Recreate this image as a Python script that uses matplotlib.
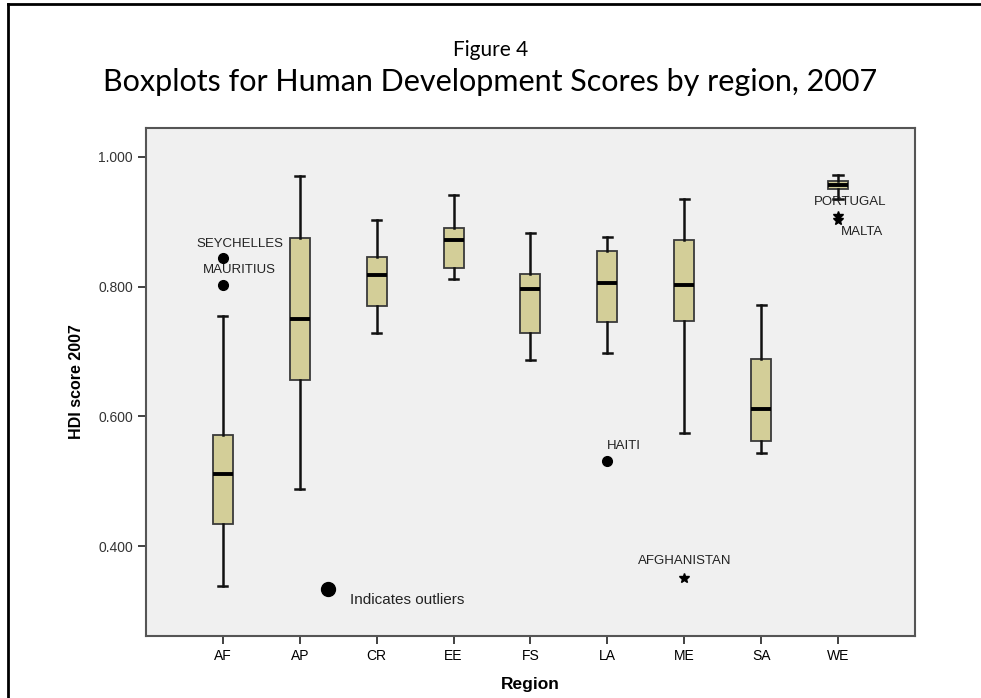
import matplotlib

matplotlib.use("Agg")
import matplotlib.pyplot as plt
from matplotlib.lines import Line2D

# box statistics (HDI score 2007)
regions = ["AF", "AP", "CR", "EE", "FS", "LA", "ME", "SA", "WE"]
whis_lo = [0.339, 0.488, 0.728, 0.812, 0.687, 0.698, 0.574, 0.543, 0.934]
q1 = [0.435, 0.656, 0.770, 0.829, 0.728, 0.746, 0.747, 0.562, 0.950]
median = [0.512, 0.750, 0.817, 0.871, 0.796, 0.805, 0.802, 0.611, 0.957]
q3 = [0.571, 0.874, 0.846, 0.890, 0.820, 0.854, 0.871, 0.689, 0.963]
whis_hi = [0.755, 0.970, 0.902, 0.941, 0.883, 0.877, 0.934, 0.771, 0.971]

# outliers (dot) and extremes (star)
out_names = ["SEYCHELLES", "MAURITIUS", "HAITI"]
out_region = [0, 0, 5]
out_values = [0.844, 0.803, 0.531]

ext_names = ["PORTUGAL", "MALTA", "AFGHANISTAN"]
ext_region = [8, 8, 6]
ext_values = [0.909, 0.902, 0.352]

BOX_COLOR = "#d3ce98"
BG = "#f0f0f0"

fig = plt.figure(figsize=(9.81, 6.98), dpi=100)
ax = fig.add_axes([0.1488, 0.0888, 0.7839, 0.7278])
ax.set_facecolor(BG)

stats = []
for i in range(len(regions)):
    stats.append({"whislo": whis_lo[i], "q1": q1[i], "med": median[i],
                  "q3": q3[i], "whishi": whis_hi[i], "fliers": []})

ax.bxp(stats, positions=range(len(regions)), widths=0.26, patch_artist=True,
       showfliers=False,
       boxprops=dict(facecolor=BOX_COLOR, edgecolor="#3a3a3a", linewidth=1.3),
       medianprops=dict(color="black", linewidth=2.8),
       whiskerprops=dict(color="#111111", linewidth=1.8),
       capprops=dict(color="#111111", linewidth=1.8),
       capwidths=0.12)

ax.plot(out_region, out_values, "o", color="black", markersize=7, zorder=4)
ax.plot(ext_region, ext_values, "*", color="black", markersize=7, zorder=4)

lab = dict(fontsize=9.5, family=["Liberation Sans", "DejaVu Sans"], color="#222222")
# outlier labels
ax.text(0.22, 0.865, out_names[0], ha="center", va="center", **lab)
ax.text(0.22, 0.825, out_names[1], ha="center", va="center", **lab)
ax.text(4.99, 0.554, out_names[2], ha="left", va="center", **lab)
ax.text(7.69, 0.930, ext_names[0], ha="left", va="center", **lab)
ax.text(8.04, 0.884, ext_names[1], ha="left", va="center", **lab)
ax.text(6.0, 0.377, ext_names[2], ha="center", va="center", **lab)

# legend-like note
ax.plot([1.37], [0.334], "o", color="black", markersize=10)
ax.text(1.65, 0.318, "Indicates outliers", ha="left", va="center",
        fontsize=11, family=["Liberation Sans", "DejaVu Sans"], color="#222222")

ax.set_xlim(-1.0, 9.0)
ax.set_ylim(0.262, 1.044)
ax.set_xticks(range(len(regions)))
ax.set_xticklabels(regions, family=["Liberation Sans Narrow", "Liberation Sans", "DejaVu Sans"],
                   fontsize=10)
ax.set_yticks([0.4, 0.6, 0.8, 1.0])
ax.set_yticklabels(["0.400", "0.600", "0.800", "1.000"],
                   family=["Liberation Sans", "DejaVu Sans"], fontsize=10, color="#333333")
ax.tick_params(axis="both", direction="out", length=6, width=1.3, color="#333333")
for side in ["top", "right", "left", "bottom"]:
    ax.spines[side].set_color("#555555")
    ax.spines[side].set_linewidth(1.5)

ax.set_ylabel("HDI score 2007", family=["Liberation Sans", "DejaVu Sans"],
              fontsize=11.5, fontweight="bold", labelpad=10)
ax.set_xlabel("Region", family=["Liberation Sans", "DejaVu Sans"],
              fontsize=12.5, fontweight="bold", labelpad=10)

fig.text(0.5, 1 - 50 / 698, "Figure 4", ha="center", va="center",
         family=["Lato", "DejaVu Sans"], fontsize=15)
fig.text(0.5, 1 - 82 / 698, "Boxplots for Human Development Scores by region, 2007",
         ha="center", va="center", family=["Lato", "DejaVu Sans"], fontsize=22)

# page frame (left and top edges)
fig.add_artist(Line2D([8 / 981, 8 / 981], [0, 1 - 4 / 698], color="black", linewidth=2))
fig.add_artist(Line2D([8 / 981, 1], [1 - 4 / 698, 1 - 4 / 698], color="black", linewidth=2))

fig.savefig("out.png", dpi=100)
